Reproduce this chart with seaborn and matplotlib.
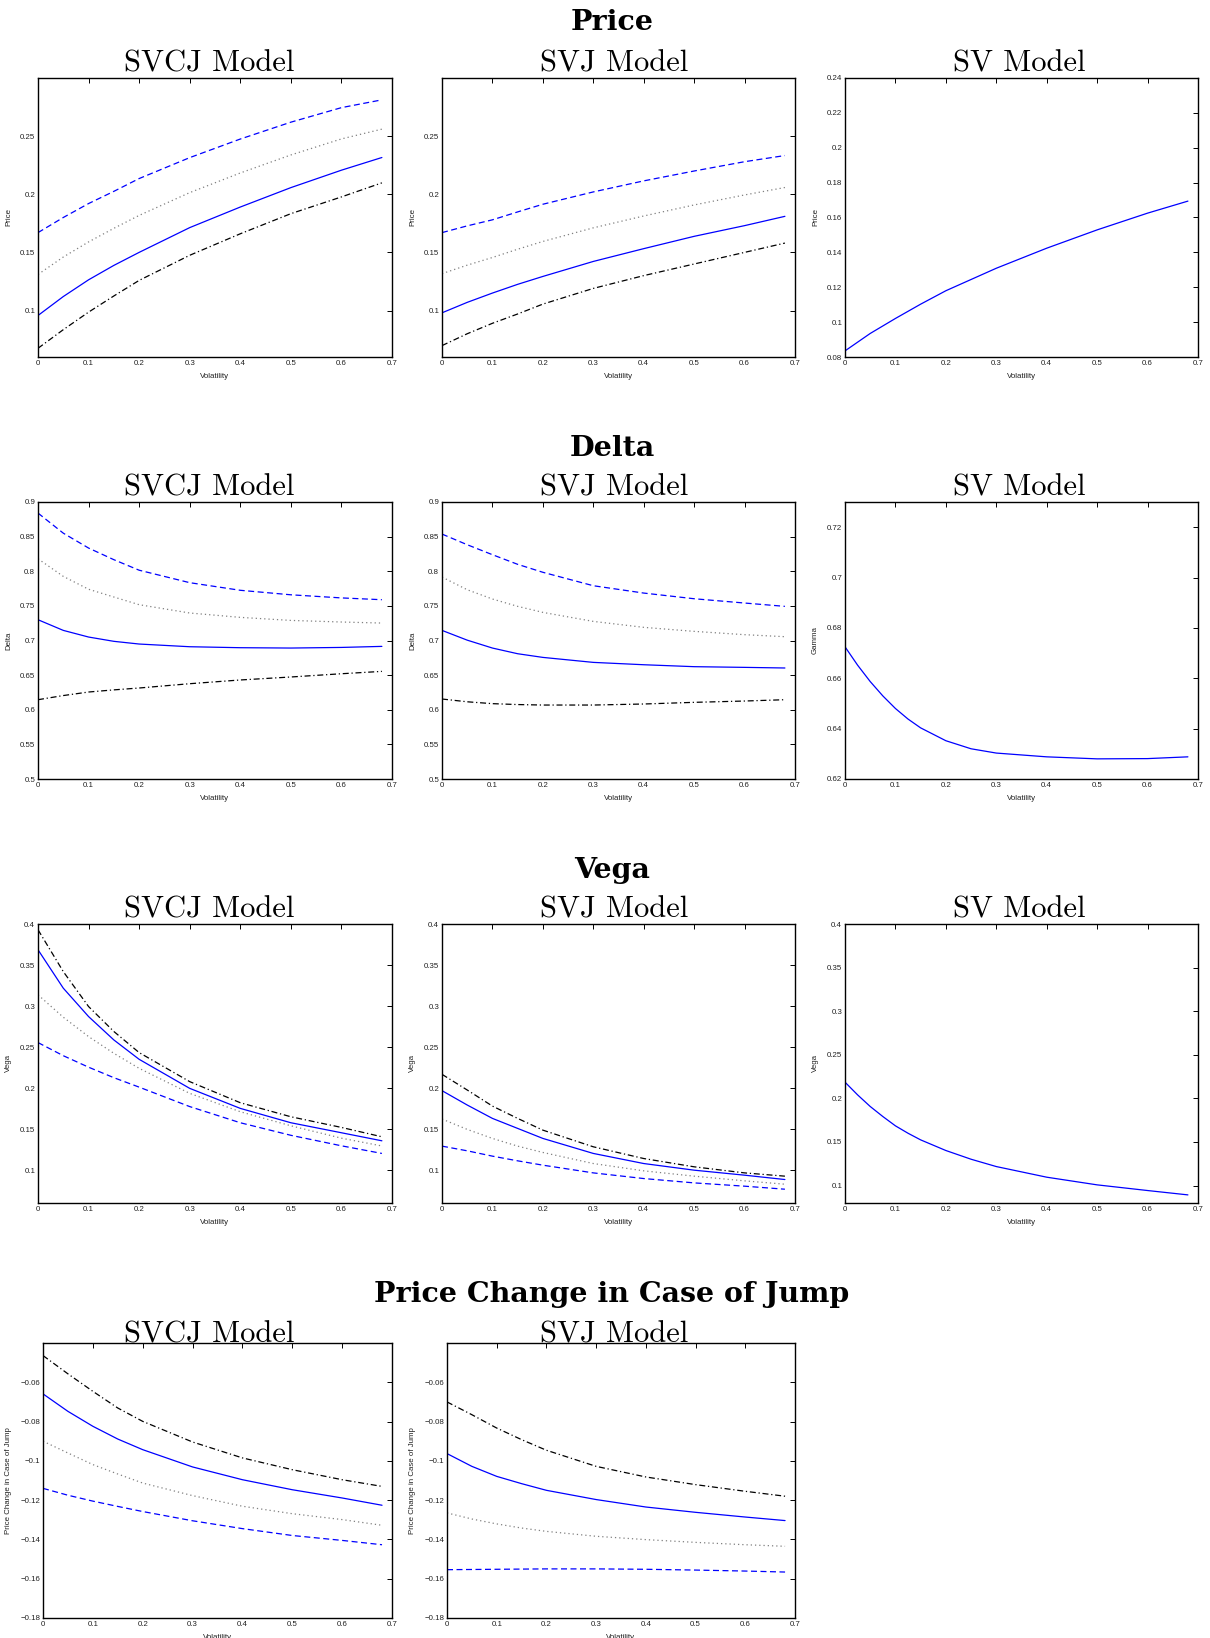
import numpy as np
import pandas as pd
import seaborn as sns
import matplotlib
matplotlib.use("Agg")
from matplotlib import pyplot as plt
from matplotlib.ticker import FuncFormatter

# volatility grid
XS = [0, 0.05, 0.1, 0.15, 0.2, 0.3, 0.4, 0.5, 0.6, 0.68]
XF = [0, 0.025, 0.05, 0.075, 0.1, 0.125, 0.15, 0.2, 0.25, 0.3, 0.4, 0.5, 0.6, 0.68]

# ---- Price
price_svcj_solid = [0.0957, 0.112, 0.1264, 0.1388, 0.150, 0.1713, 0.189, 0.2057, 0.2207, 0.2316]
price_svcj_dashed = [0.167, 0.180, 0.192, 0.2025, 0.2135, 0.2315, 0.2475, 0.262, 0.2745, 0.2812]
price_svcj_dotted = [0.131, 0.146, 0.159, 0.1707, 0.1818, 0.2014, 0.2183, 0.2338, 0.2476, 0.2560]
price_svcj_dashdot = [0.0675, 0.0835, 0.0986, 0.1125, 0.1259, 0.1475, 0.166, 0.1833, 0.1977, 0.2098]

price_svj_solid = [0.098, 0.107, 0.115, 0.1225, 0.1293, 0.1422, 0.1532, 0.1638, 0.173, 0.181]
price_svj_dashed = [0.167, 0.1728, 0.178, 0.1848, 0.1914, 0.202, 0.2115, 0.220, 0.228, 0.2333]
price_svj_dotted = [0.1317, 0.139, 0.1456, 0.1527, 0.1594, 0.1711, 0.1813, 0.1908, 0.1994, 0.2058]
price_svj_dashdot = [0.0698, 0.080, 0.089, 0.097, 0.1055, 0.119, 0.130, 0.140, 0.150, 0.158]

price_sv_solid = [0.0835, 0.0935, 0.1021, 0.1103, 0.118, 0.1309, 0.1424, 0.1529, 0.1625, 0.1694]

# ---- Delta
delta_svcj_solid = [0.730, 0.7146, 0.705, 0.6988, 0.6949, 0.691, 0.6896, 0.6891, 0.690, 0.6915]
delta_svcj_dashed = [0.884, 0.855, 0.8335, 0.8167, 0.8015, 0.7835, 0.7725, 0.766, 0.7615, 0.7589]
delta_svcj_dotted = [0.818, 0.7926, 0.774, 0.7628, 0.7517, 0.7397, 0.7334, 0.729, 0.7267, 0.7252]
delta_svcj_dashdot = [0.6145, 0.6205, 0.6256, 0.6287, 0.6314, 0.6376, 0.643, 0.6473, 0.652, 0.6554]

delta_svj_solid = [0.7146, 0.7005, 0.6891, 0.6809, 0.6756, 0.6684, 0.665, 0.6622, 0.6612, 0.6603]
delta_svj_dashed = [0.8537, 0.8383, 0.8239, 0.810, 0.7985, 0.7791, 0.7685, 0.7603, 0.7541, 0.7493]
delta_svj_dotted = [0.7916, 0.7733, 0.7599, 0.7493, 0.7406, 0.7276, 0.719, 0.7132, 0.7084, 0.7055]
delta_svj_dashdot = [0.6155, 0.6115, 0.6088, 0.6075, 0.6068, 0.6068, 0.6083, 0.6107, 0.6126, 0.6145]

gamma_sv_solid = [0.6725, 0.6652, 0.6587, 0.653, 0.648, 0.6438, 0.6403, 0.6352, 0.632, 0.6303,
                  0.6288, 0.628, 0.6281, 0.6288]

# ---- Vega
vega_svcj_solid = [0.3686, 0.3218, 0.2872, 0.2587, 0.2351, 0.1997, 0.1753, 0.1578, 0.1456, 0.1358]
vega_svcj_dashed = [0.2555, 0.2395, 0.2255, 0.2127, 0.2012, 0.1775, 0.1578, 0.1425, 0.1297, 0.1204]
vega_svcj_dotted = [0.3137, 0.2864, 0.2628, 0.2424, 0.2241, 0.1936, 0.1712, 0.1541, 0.139, 0.1295]
vega_svcj_dashdot = [0.393, 0.342, 0.2994, 0.269, 0.2433, 0.2079, 0.1822, 0.1651, 0.1521, 0.1407]

vega_svj_solid = [0.1969, 0.1794, 0.1631, 0.1509, 0.1387, 0.1204, 0.1081, 0.100, 0.0939, 0.0886]
vega_svj_dashed = [0.1293, 0.1236, 0.1171, 0.1114, 0.1061, 0.0967, 0.0898, 0.0845, 0.0805, 0.0768]
vega_svj_dotted = [0.1623, 0.1497, 0.1387, 0.1293, 0.1216, 0.1081, 0.0992, 0.0927, 0.087, 0.0829]
vega_svj_dashdot = [0.2168, 0.1977, 0.1781, 0.1631, 0.1488, 0.1285, 0.1142, 0.1041, 0.0967, 0.0927]

vega_sv_solid = [0.2186, 0.204, 0.1907, 0.1792, 0.1685, 0.160, 0.1524, 0.1402, 0.1302, 0.1218,
                 0.1096, 0.1008, 0.0943, 0.0893]

# ---- Price change in case of jump
jump_svcj_solid = [-0.0659, -0.0748, -0.0824, -0.0889, -0.0943, -0.1031, -0.1096, -0.1147, -0.1189, -0.1226]
jump_svcj_dashed = [-0.114, -0.1175, -0.1205, -0.1232, -0.1258, -0.1305, -0.1345, -0.138, -0.1405, -0.1427]
jump_svcj_dotted = [-0.090, -0.096, -0.1019, -0.1067, -0.1113, -0.1177, -0.1231, -0.1269, -0.1299, -0.1328]
jump_svcj_dashdot = [-0.0464, -0.0557, -0.0646, -0.0731, -0.0799, -0.0904, -0.0985, -0.1045, -0.1096, -0.113]

jump_svj_solid = [-0.0963, -0.1028, -0.1079, -0.1116, -0.115, -0.1197, -0.1235, -0.1262, -0.1286, -0.1304]
jump_svj_dashed = [-0.1554, -0.1553, -0.1552, -0.1551, -0.155, -0.155, -0.1552, -0.1556, -0.1561, -0.1566]
jump_svj_dotted = [-0.1265, -0.1296, -0.1321, -0.1342, -0.1359, -0.1384, -0.1401, -0.1415, -0.1427, -0.1435]
jump_svj_dashdot = [-0.070, -0.0765, -0.0833, -0.0892, -0.0946, -0.1028, -0.1082, -0.1121, -0.1155, -0.118]

sections = ["Price", "Delta", "Vega", "Price Change in Case of Jump"]

sns.set_style("white")
plt.rcParams["font.family"] = ["Liberation Sans", "DejaVu Sans"]
plt.rcParams["axes.edgecolor"] = "black"
plt.rcParams["axes.linewidth"] = 1.0
plt.rcParams["text.color"] = "black"

palette = {"solid": "#0000ff", "dashed": "#0000ff", "dotted": "#808080", "dashdot": "#000000"}
dashes = {"solid": "", "dashed": (4.8, 2.8), "dotted": (1.0, 2.4), "dashdot": (4.8, 2.2, 1.0, 2.2)}

W, H = 1210, 1638
fig = plt.figure(figsize=(W / 100, H / 100), dpi=100)


def fmt(v, pos):
    s = "%g" % round(v, 4)
    return s.replace("-", "\u2212")


def panel(box, title, ylabel, x, curves, ylim, yticks, title_pad=5, lab_off=26, tshift=0):
    l, t, r, b = box
    ax = fig.add_axes([l / W, 1 - b / H, (r - l) / W, (b - t) / H])
    rows = []
    for name, vals in curves.items():
        for xi, yi in zip(x, vals):
            rows.append({"vol": xi, "val": yi, "line": name})
    df = pd.DataFrame(rows)
    sns.lineplot(data=df, x="vol", y="val", hue="line", style="line",
                 palette={k: palette[k] for k in curves},
                 dashes={k: dashes[k] for k in curves},
                 linewidth=0.9, legend=False, ax=ax)
    ax.set_xlim(0, 0.7)
    ax.set_ylim(*ylim)
    ax.set_xticks(np.round(np.arange(0, 0.71, 0.1), 2))
    ax.set_yticks(yticks)
    ax.xaxis.set_major_formatter(FuncFormatter(fmt))
    ax.yaxis.set_major_formatter(FuncFormatter(fmt))
    ax.tick_params(direction="in", top=True, right=True, length=3.5, width=0.7,
                   labelsize=5.7, pad=2, colors="black", labelcolor="#222222")
    for sp in ax.spines.values():
        sp.set_visible(True)
        sp.set_color("black")
    ax.set_xlabel("Volatility", fontsize=5.7, color="#222222")
    ax.set_ylabel(ylabel, fontsize=5.7, color="#222222")
    ax.xaxis.set_label_coords(0.5, -16 / (b - t))
    ax.yaxis.set_label_coords(-lab_off / (r - l), 0.5)
    ttl = ax.set_title(title, family="cmr10", fontsize=22, pad=title_pad, color="black")
    ttl.set_x(0.5 + tshift / (r - l))
    return ax


def four(prefix, kind):
    g = globals()
    return {k: g[f"{prefix}_{kind}_{k}"] for k in ["dashed", "dotted", "dashdot", "solid"]}


cols = [(38, 392), (442, 795), (845, 1198)]
shifts = [-6, -4, -2]

# row 1: price
t, b = 78, 357
panel((cols[0][0], t, cols[0][1], b), "SVCJ Model", "Price", XS, four("price", "svcj"),
      (0.06, 0.3), [0.1, 0.15, 0.2, 0.25], tshift=shifts[0])
panel((cols[1][0], t, cols[1][1], b), "SVJ Model", "Price", XS, four("price", "svj"),
      (0.06, 0.3), [0.1, 0.15, 0.2, 0.25], tshift=shifts[1])
panel((cols[2][0], t, cols[2][1], b), "SV Model", "Price", XS, {"solid": price_sv_solid},
      (0.08, 0.24), np.round(np.arange(0.08, 0.241, 0.02), 2), tshift=shifts[2])

# row 2: delta
t, b = 502, 779
dt = np.round(np.arange(0.5, 0.901, 0.05), 2)
panel((cols[0][0], t, cols[0][1], b), "SVCJ Model", "Delta", XS, four("delta", "svcj"),
      (0.5, 0.9), dt, tshift=shifts[0])
panel((cols[1][0], t, cols[1][1], b), "SVJ Model", "Delta", XS, four("delta", "svj"),
      (0.5, 0.9), dt, tshift=shifts[1])
panel((cols[2][0], t, cols[2][1], b), "SV Model", "Gamma", XF, {"solid": gamma_sv_solid},
      (0.62, 0.73), np.round(np.arange(0.62, 0.721, 0.02), 2), tshift=shifts[2])

# row 3: vega
t, b = 924, 1203
vt = np.round(np.arange(0.1, 0.401, 0.05), 2)
panel((cols[0][0], t, cols[0][1], b), "SVCJ Model", "Vega", XS, four("vega", "svcj"),
      (0.06, 0.4), vt, tshift=shifts[0])
panel((cols[1][0], t, cols[1][1], b), "SVJ Model", "Vega", XS, four("vega", "svj"),
      (0.06, 0.4), vt, tshift=shifts[1])
panel((cols[2][0], t, cols[2][1], b), "SV Model", "Vega", XF, {"solid": vega_sv_solid},
      (0.08, 0.4), vt, tshift=shifts[2])

# row 4: price change in case of jump
t, b = 1343, 1618
jt = np.round(np.arange(-0.18, -0.059, 0.02), 2)
panel((43, t, 392, b), "SVCJ Model", "Price Change in Case of Jump", XS, four("jump", "svcj"),
      (-0.18, -0.04), jt, title_pad=0.5, lab_off=31, tshift=-8)
panel((447, t, 795, b), "SVJ Model", "Price Change in Case of Jump", XS, four("jump", "svj"),
      (-0.18, -0.04), jt, title_pad=0.5, lab_off=31, tshift=-7)

for name, yc in zip(sections, [23, 448, 871, 1295]):
    fig.text(612 / W, 1 - yc / H, name, family="DejaVu Serif", weight="bold",
             fontsize=20.5, ha="center", va="center", color="black")

fig.savefig("out.png", dpi=100)
